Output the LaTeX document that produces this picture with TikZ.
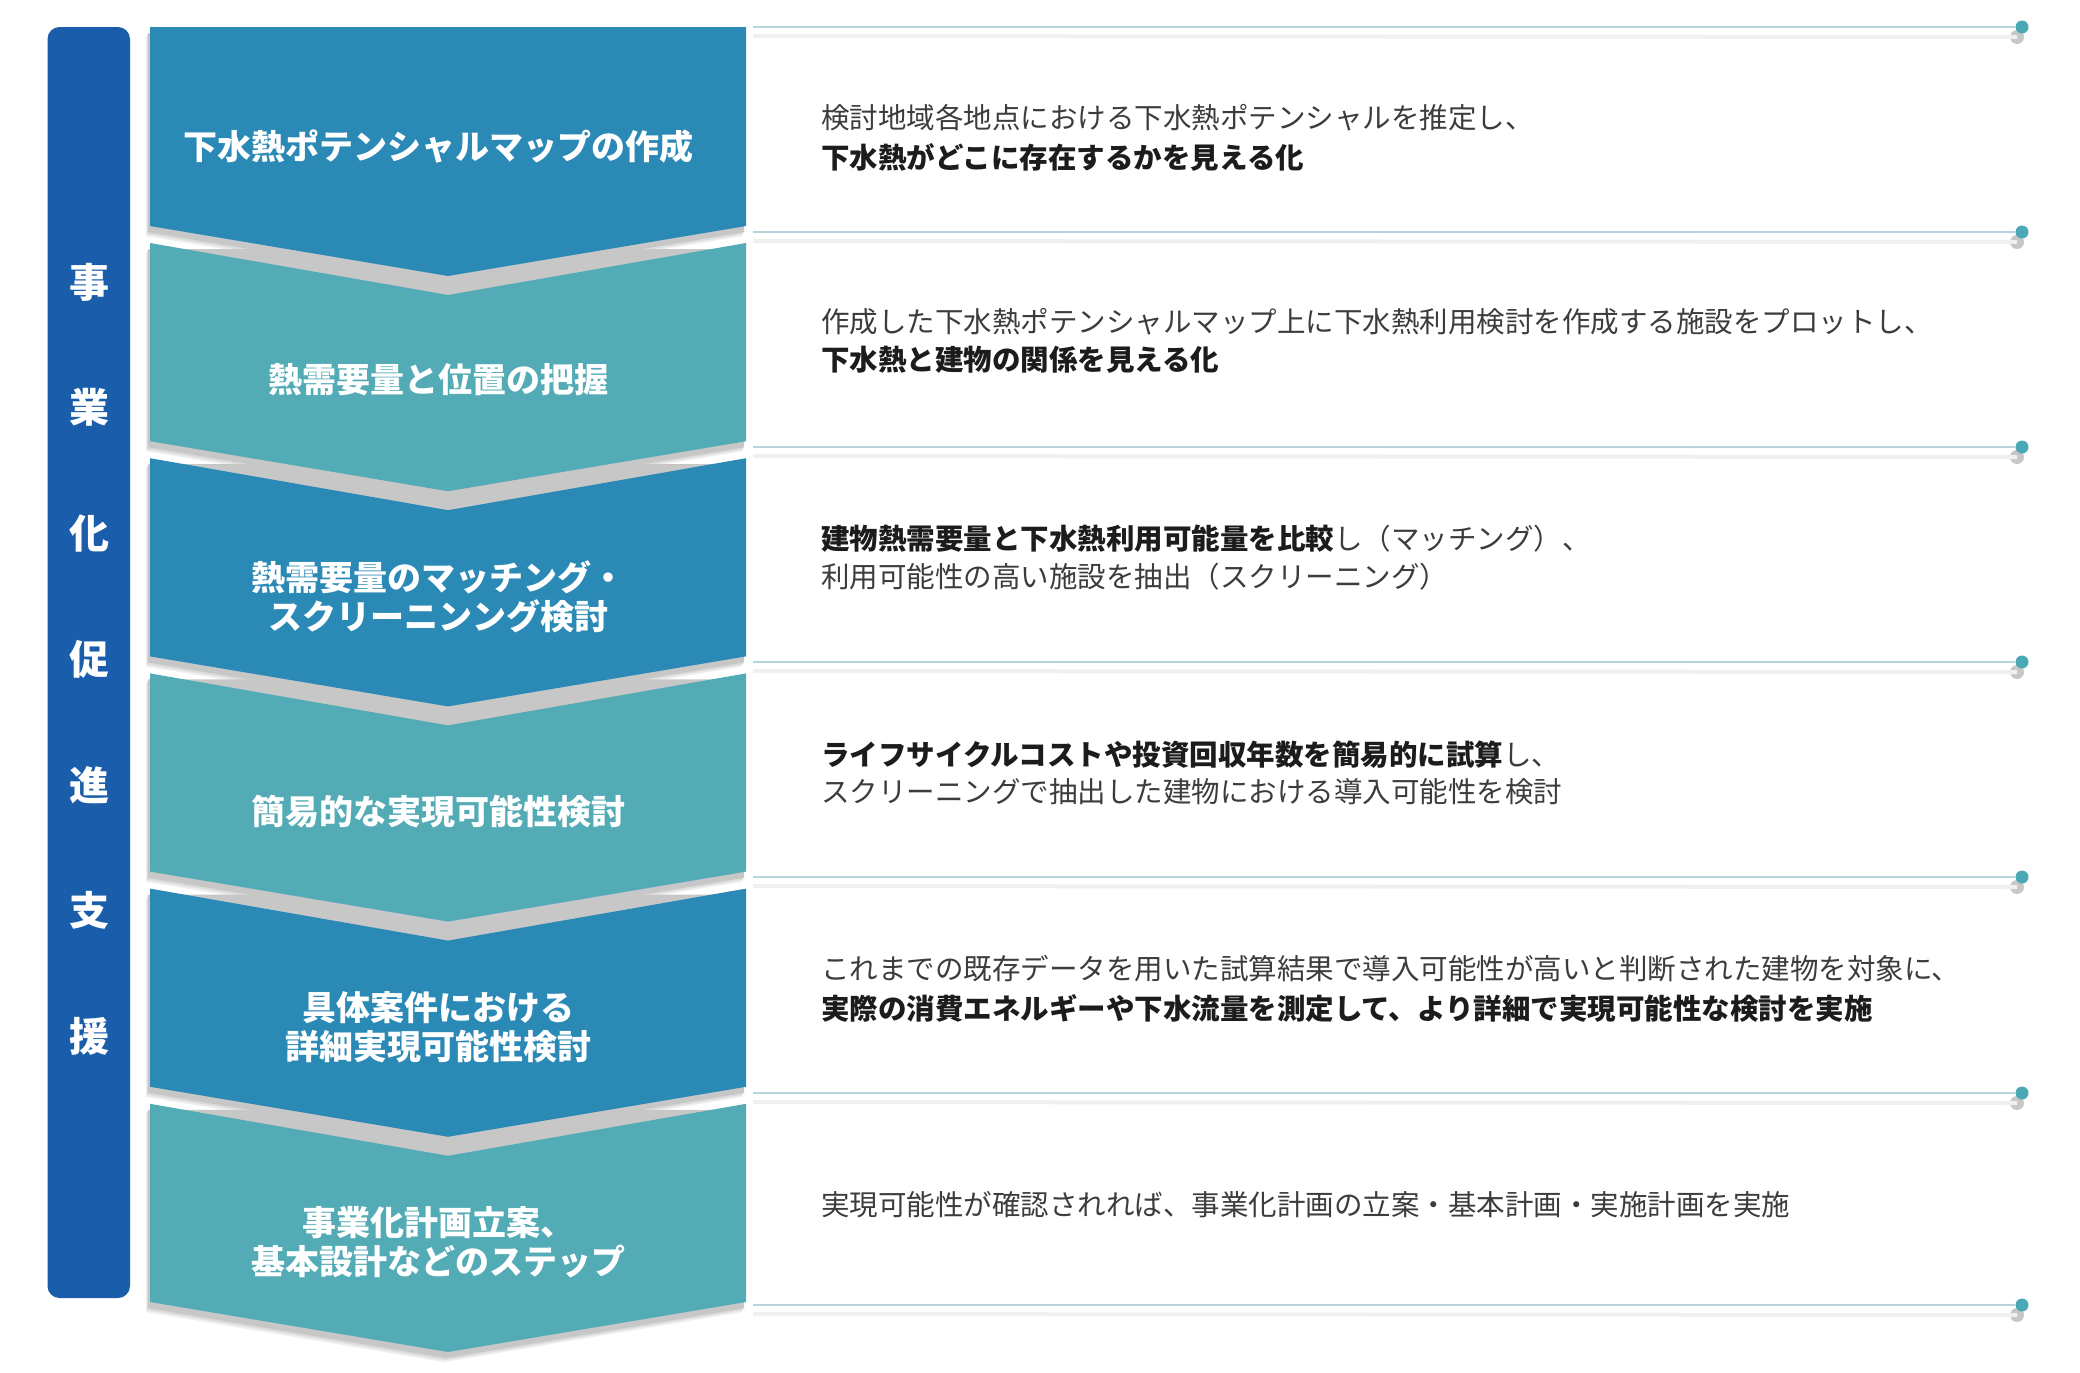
\documentclass[tikz,border=0pt]{standalone}
\usepackage{fontspec}
\setmainfont{Noto Sans CJK JP}
\definecolor{barblue}{HTML}{1A5DAB}
\definecolor{chevdark}{HTML}{2B89B6}
\definecolor{chevlight}{HTML}{53ABB5}
\definecolor{dotteal}{HTML}{4AA9B5}
\definecolor{linecol}{HTML}{B5D4DC}
\definecolor{txtnorm}{HTML}{3C3C3C}
\definecolor{txtbold}{HTML}{1C1C1C}
\tikzset{
  chevtext/.style={text=white, font=\bfseries\fontsize{34}{40}\selectfont, inner sep=0pt, anchor=center},
  bartext/.style={text=white, font=\bfseries\fontsize{40}{44}\selectfont, inner sep=0pt, anchor=center},
  desc/.style={text=txtnorm, font=\fontsize{28.5}{34}\selectfont, inner sep=0pt, anchor=west},
  sepline/.style={draw=linecol, line width=2pt},
  sepshadow/.style={draw=black!6, line width=4pt},
  dotnode/.style={circle, fill=dotteal, minimum size=13pt, inner sep=0pt},
  dotshadow/.style={circle, fill=black!22, minimum size=14pt, inner sep=0pt},
}
\newcommand{\mybold}[1]{{\bfseries\color{txtbold}#1}}
\begin{document}
\begin{tikzpicture}[x=1pt,y=-1pt]
\useasboundingbox (0,0) rectangle (2080,1373);
\fill[white] (0,0) rectangle (2080,1373);

% left bar
\fill[barblue, rounded corners=12pt] (47.5,27) rectangle (130,1298);
\foreach \ch [count=\k from 0] in {事,業,化,促,進,支,援}{
  \node[bartext] (bar\k) at (89,{282+\k*125.7}) {\ch};
}

% chevron shadows
\foreach \te/\b in {27/226, 243/441.2, 458.2/656.4, 673.4/871.6, 888.6/1086.8, 1103.8/1302}{
  \foreach \sx/\sy/\g in {-4/10/7, -3/8/14, -2/6/22}{
    \fill[black!\g, shift={(\sx,\sy)}] (150,\te) -- (746,\te) -- (746,\b) -- (448,\b+50) -- (150,\b) -- cycle;
  }
}
% chevrons
\fill[chevdark] (150,27) -- (746,27) -- (746,226) -- (448,276) -- (150,226) -- cycle;
\foreach \te/\b/\col in {243/441.2/chevlight, 458.2/656.4/chevdark, 673.4/871.6/chevlight, 888.6/1086.8/chevdark, 1103.8/1302/chevlight}{
  \fill[\col] (150,\te) -- (448,\te+52) -- (746,\te) -- (746,\b) -- (448,\b+50) -- (150,\b) -- cycle;
}

% chevron texts
\node[chevtext] (c1) at (438,147) {下水熱ポテンシャルマップの作成};
\node[chevtext] (c2) at (438,380) {熱需要量と位置の把握};
\node[chevtext] (c3a) at (438,577) {熱需要量のマッチング・};
\node[chevtext] (c3b) at (438,616) {スクリーニンング検討};
\node[chevtext] (c4) at (438,812) {簡易的な実現可能性検討};
\node[chevtext] (c5a) at (438,1008) {具体案件における};
\node[chevtext] (c5b) at (438,1047) {詳細実現可能性検討};
\node[chevtext] (c6a) at (438,1223) {事業化計画立案、};
\node[chevtext] (c6b) at (438,1262) {基本設計などのステップ};

% separator lines with dots
\foreach \y [count=\k] in {27, 232, 447, 662, 877, 1093, 1305}{
  \coordinate (ls\k) at (753,\y);
  \coordinate (lss\k) at (753,\y+9);
  \node[dotshadow] (ds\k) at (2017,\y+10) {};
  \draw[sepshadow] (lss\k) -- (ds\k.center);
  \node[dotnode] (dot\k) at (2022,\y) {};
  \draw[sepline] (ls\k) -- (dot\k);
}

% descriptions
\node[desc] (d1a) at (821,118) {検討地域各地点における下水熱ポテンシャルを推定し、};
\node[desc] (d1b) at (821,157) {\mybold{下水熱がどこに存在するかを見える化}};
\node[desc] (d2a) at (821,322) {作成した下水熱ポテンシャルマップ上に下水熱利用検討を作成する施設をプロットし、};
\node[desc] (d2b) at (821,360) {\mybold{下水熱と建物の関係を見える化}};
\node[desc] (d3a) at (821,539) {\mybold{建物熱需要量と下水熱利用可能量を比較}し（マッチング）、};
\node[desc] (d3b) at (821,577) {利用可能性の高い施設を抽出（スクリーニング）};
\node[desc] (d4a) at (821,755) {\mybold{ライフサイクルコストや投資回収年数を簡易的に試算}し、};
\node[desc] (d4b) at (821,792) {スクリーニングで抽出した建物における導入可能性を検討};
\node[desc] (d5a) at (821,969) {これまでの既存データを用いた試算結果で導入可能性が高いと判断された建物を対象に、};
\node[desc] (d5b) at (821,1008) {\mybold{実際の消費エネルギーや下水流量を測定して、より詳細で実現可能性な検討を実施}};
\node[desc] (d6a) at (821,1205) {実現可能性が確認されれば、事業化計画の立案・基本計画・実施計画を実施};
\end{tikzpicture}
\end{document}
